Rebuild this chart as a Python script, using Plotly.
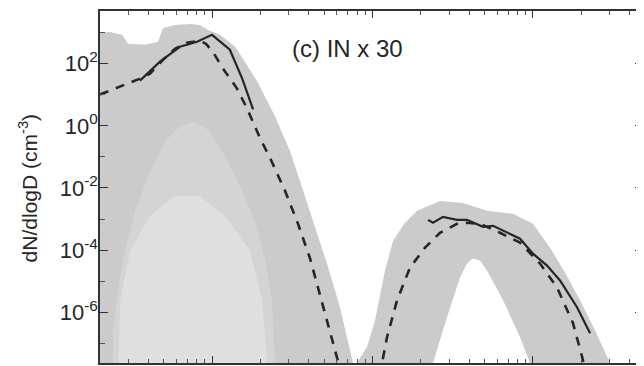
import plotly.graph_objects as go

# ---------------- data (D in µm, dN/dlogD in cm^-3) ----------------
# Fine-mode ensemble envelope (upper edge of the grey band)
fine_env_D = [0.0195, 0.0231, 0.0274, 0.0299, 0.0382, 0.0460, 0.0494, 0.0587, 0.0728, 0.0840,
              0.0943, 0.112, 0.139, 0.160, 0.191, 0.247, 0.306, 0.353, 0.425, 0.520, 0.627, 0.755, 0.788]
fine_env_N = [982, 1057, 847, 437, 405, 506, 1419, 1770, 1905, 1770,
              1225, 847, 350, 116, 26.5, 2.01, 0.153, 0.0167, 8.79e-4, 3.70e-5, 1.45e-6, 2.33e-8, 8.95e-9]

# Sparse (lighter) interior of the fine-mode ensemble: outer faint zone and inner sparser zone
sparse_D = [0.0241, 0.0241, 0.0259, 0.0286, 0.0331, 0.0410, 0.0508, 0.0630, 0.0782, 0.0970,
            0.120, 0.149, 0.185, 0.214, 0.236, 0.250]
sparse_N = [8.95e-9, 2.65e-7, 5.06e-6, 9.64e-5, 1.84e-3, 0.035, 0.319, 0.964, 1.39, 0.667,
            0.106, 0.0116, 8.79e-4, 4.61e-5, 2.42e-6, 8.95e-9]
sparser_D = [0.0259, 0.0267, 0.0308, 0.0410, 0.0587, 0.0840, 0.120, 0.172, 0.205, 0.223]
sparser_N = [8.95e-9, 2.42e-6, 9.64e-5, 1.27e-3, 5.55e-3, 5.55e-3, 1.27e-3, 9.64e-5, 2.42e-6, 8.95e-9]

# Coarse-mode ensemble band: outer and inner edges
coarse_out_D = [0.755, 0.800, 0.924, 1.036, 1.196, 1.342, 1.594, 1.893, 2.634, 3.66,
                5.17, 7.51, 10.0, 12.77, 15.84, 19.65, 24.37, 30.2, 31.6]
coarse_out_N = [8.95e-9, 2.33e-8, 7.59e-8, 5.55e-7, 2.21e-5, 2.01e-4, 7.59e-4, 1.84e-3, 3.84e-3, 3.31e-3,
                1.84e-3, 1.47e-3, 7.05e-4, 1.20e-4, 1.91e-5, 2.42e-6, 2.65e-7, 2.33e-8, 8.95e-9]
coarse_in_D = [2.281, 2.382, 2.912, 3.51, 3.88, 4.23, 4.68, 5.17, 6.51, 8.31, 9.58, 10.0]
coarse_in_N = [8.95e-9, 2.33e-8, 6.92e-7, 1.32e-5, 3.70e-5, 5.35e-5, 4.61e-5, 2.21e-5, 2.42e-6, 1.58e-7,
               2.33e-8, 8.95e-9]

# Black solid (observed) curves
fine_solid_D = [0.0355, 0.0473, 0.0630, 0.0805, 0.0998, 0.129, 0.154, 0.180]
fine_solid_N = [28.6, 116, 350, 506, 847, 281, 33.1, 3.37]
coarse_solid_D = [2.218, 2.382, 2.750, 3.36, 3.88, 4.88, 5.64, 6.51, 8.31, 10.0, 12.24, 14.74, 18.82, 22.7]
coarse_solid_N = [9.46e-4, 7.59e-4, 1.18e-3, 9.46e-4, 9.46e-4, 5.65e-4, 6.08e-4, 4.21e-4, 2.33e-4,
                  7.73e-5, 3.19e-5, 1.06e-5, 1.45e-6, 2.13e-7]

# Black dashed curves
fine_dashed_D = [0.0200, 0.0355, 0.0410, 0.0494, 0.0587, 0.0697, 0.0840, 0.0916, 0.101, 0.117,
                 0.143, 0.165, 0.199, 0.230, 0.285, 0.343, 0.408, 0.470, 0.543, 0.609, 0.645]
fine_dashed_N = [10.2, 33.1, 47.9, 134, 302, 470, 545, 437, 242, 69.2,
                 15.8, 3.63, 0.398, 0.0912, 8.02e-3, 7.05e-4, 5.35e-5, 3.50e-6, 2.13e-7, 2.33e-8, 8.95e-9]
coarse_dashed_D = [1.113, 1.146, 1.231, 1.421, 1.712, 2.124, 2.634, 3.36, 3.88, 4.68,
                   6.23, 8.31, 11.07, 14.12, 17.77, 20.5, 21.1]
coarse_dashed_N = [8.95e-9, 2.33e-8, 1.58e-7, 2.42e-6, 2.75e-5, 1.20e-4, 3.63e-4, 7.05e-4, 7.59e-4, 7.05e-4,
                   3.63e-4, 1.74e-4, 3.70e-5, 6.31e-6, 4.45e-7, 2.91e-8, 8.95e-9]

floor_N = 1e-10  # below the visible range, closes the fine-mode fill

# axis settings (log10 units)
x_range_exp = [-1.699, 1.686]
y_range_exp = [-7.632, 3.696]
y_major_vals = [1e-6, 1e-4, 1e-2, 1, 1e2]
y_major_text = ['10<sup>-6</sup>', '10<sup>-4</sup>', '10<sup>-2</sup>', '10<sup>0</sup>', '10<sup>2</sup>']
y_minor_vals = [1e-7, 1e-5, 1e-3, 1e-1, 1e1, 1e3]
x_major_vals = [0.1, 1, 10]
x_minor_vals = [m * d for d in (0.01, 0.1, 1, 10) for m in range(2, 10)]

label_text = '(c) IN x 30'
y_title = 'dN/dlogD (cm<sup>-3</sup>)'

# ---------------- figure ----------------
GREY = '#cbcbcb'
LIGHT1 = '#d4d4d4'
LIGHT2 = '#dfdfdf'
INK = '#262626'
FONT = 'Liberation Sans, Arial, Helvetica, sans-serif'

fig = go.Figure()

fig.add_trace(go.Scatter(
    x=fine_env_D + [fine_env_D[-1], fine_env_D[0]],
    y=fine_env_N + [floor_N, floor_N],
    fill='toself', fillcolor=GREY, mode='none', hoverinfo='skip', showlegend=False))

fig.add_trace(go.Scatter(
    x=sparse_D, y=sparse_N,
    fill='toself', fillcolor=LIGHT1, mode='none', hoverinfo='skip', showlegend=False))

fig.add_trace(go.Scatter(
    x=sparser_D, y=sparser_N,
    fill='toself', fillcolor=LIGHT2, mode='none', hoverinfo='skip', showlegend=False))

fig.add_trace(go.Scatter(
    x=coarse_out_D + coarse_in_D[::-1],
    y=coarse_out_N + coarse_in_N[::-1],
    fill='toself', fillcolor=GREY, mode='none', hoverinfo='skip', showlegend=False))

dash_style = dict(color=INK, width=2.6, dash='9px,8px')
solid_style = dict(color=INK, width=2.2)

fig.add_trace(go.Scatter(x=fine_dashed_D, y=fine_dashed_N, mode='lines', line=dash_style, showlegend=False))
fig.add_trace(go.Scatter(x=coarse_dashed_D, y=coarse_dashed_N, mode='lines', line=dash_style, showlegend=False))
fig.add_trace(go.Scatter(x=fine_solid_D, y=fine_solid_N, mode='lines', line=solid_style, showlegend=False))
# drawn on the right-hand overlay axis (same range) so that its ticks are rendered
fig.add_trace(go.Scatter(x=coarse_solid_D, y=coarse_solid_N, mode='lines', line=solid_style,
                         yaxis='y2', showlegend=False))

# The page body keeps the browser's default 8px margin, so the figure is 8px smaller.
fig.update_layout(
    width=636, height=358,
    margin=dict(l=92, r=1, t=1, b=3),
    paper_bgcolor='white', plot_bgcolor='white',
    font=dict(family=FONT, color=INK),
    xaxis=dict(
        type='log', range=x_range_exp,
        showgrid=False, zeroline=False,
        showline=True, linecolor='#333333', linewidth=1.5, mirror='ticks',
        tickmode='array', tickvals=x_major_vals, ticks='inside', ticklen=7, tickwidth=1.2,
        tickcolor='#333333', showticklabels=False,
        minor=dict(tickmode='array', tickvals=x_minor_vals, ticks='inside', ticklen=4,
                   tickwidth=1, tickcolor='#555555', showgrid=False),
    ),
    yaxis=dict(
        type='log', range=y_range_exp,
        showgrid=False, zeroline=False,
        showline=True, linecolor='#333333', linewidth=1.5, mirror=False,
        tickmode='array', tickvals=y_major_vals, ticktext=y_major_text,
        ticks='inside', ticklen=8, tickwidth=1.2, tickcolor='#333333',
        tickfont=dict(size=22, family=FONT, color=INK),
        ticklabelstandoff=-4,
        minor=dict(tickmode='array', tickvals=y_minor_vals, ticks='inside', ticklen=5,
                   tickwidth=1, tickcolor='#555555', showgrid=False),
    ),
    yaxis2=dict(
        type='log', range=y_range_exp, overlaying='y', side='right', anchor='x',
        showgrid=False, zeroline=False, showline=False, showticklabels=False,
        tickmode='array', tickvals=y_major_vals,
        ticks='inside', ticklen=8, tickwidth=1.3, tickcolor='#333333',
        minor=dict(tickmode='array', tickvals=y_minor_vals, ticks='inside', ticklen=5,
                   tickwidth=1.1, tickcolor='#555555', showgrid=False),
    ),
    annotations=[
        dict(text=label_text, xref='paper', yref='paper', x=0.350, y=0.893,
             xanchor='left', yanchor='middle', showarrow=False,
             font=dict(size=24, family=FONT, color=INK)),
        dict(text=y_title, xref='paper', yref='paper', x=-0.132, y=0.497,
             xanchor='center', yanchor='middle', textangle=-90, showarrow=False,
             font=dict(size=21, family=FONT, color=INK)),
    ],
)

fig.write_html('out.html')
